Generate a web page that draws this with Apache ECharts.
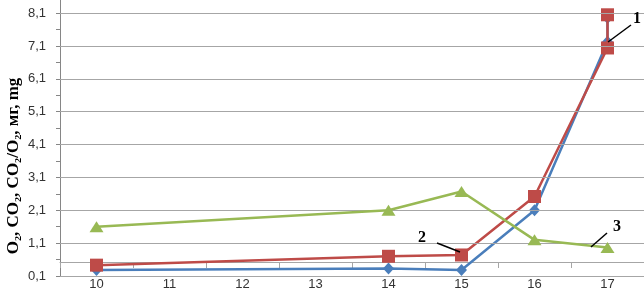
<!DOCTYPE html>
<html>
<head>
<meta charset="utf-8">
<script src="https://cdn.jsdelivr.net/npm/echarts@6/dist/echarts.min.js"></script>
<style>
  html, body { margin: 0; padding: 0; background: #fff; }
  #chart { width: 644px; height: 291px; }
</style>
</head>
<body>
<div id="chart"></div>
<script>
// categories on the x axis
var categories = ["10", "11", "12", "13", "14", "15", "16", "17"];
// y tick labels
var yTicks = [0.1, 1.1, 2.1, 3.1, 4.1, 5.1, 6.1, 7.1, 8.1];
var yMinorTicks = [0.1, 0.6, 1.1, 1.6, 2.1, 2.6, 3.1, 3.6, 4.1, 4.6, 5.1, 5.6, 6.1, 6.6, 7.1, 7.6, 8.1];

// series 1 (blue diamonds)
var s1X = ["10", "14", "15", "16", "17", "17"];
var s1Y = [0.28, 0.33, 0.28, 2.1, 7.23, 7.95];
// series 2 (red squares)
var s2X = ["10", "14", "15", "16", "17", "17"];
var s2Y = [0.43, 0.70, 0.74, 2.52, 7.04, 8.05];
// series 3 (green triangles)
var s3X = ["10", "14", "15", "16", "17"];
var s3Y = [1.6, 2.1, 2.67, 1.2, 0.97];

function pairs(xs, ys) {
  return xs.map(function (x, i) { return [x, ys[i]]; });
}

var myChart = echarts.init(document.getElementById("chart"));

var labelFont = { color: "#333", fontSize: 13, fontFamily: "Liberation Sans" };

var option = {
  backgroundColor: "#fff",
  animation: false,
  grid: { left: 60, right: 0, top: 0, bottom: 14 },
  xAxis: [
    {
      type: "category",
      data: categories,
      boundaryGap: true,
      axisLine: { lineStyle: { color: "#a6a6a6" } },
      axisTick: { show: false },
      axisLabel: Object.assign({ margin: 2 }, labelFont),
    },
    {
      // axis line crossing the value axis a little above the bottom
      type: "category",
      data: categories,
      position: "bottom",
      offset: -14,
      boundaryGap: true,
      axisLine: { lineStyle: { color: "#a6a6a6" } },
      axisTick: { show: true, length: 6, lineStyle: { color: "#a6a6a6" } },
      axisLabel: { show: false },
    },
  ],
  yAxis: {
    type: "value",
    min: 0.1,
    max: 8.5,
    axisLine: { show: true, lineStyle: { color: "#868686" } },
    axisTick: { show: true, length: 4, customValues: yMinorTicks, lineStyle: { color: "#868686" } },
    axisLabel: Object.assign({
      margin: 14,
      customValues: yTicks,
      formatter: function (v) { return v.toFixed(1).replace(".", ","); },
    }, labelFont),
    splitLine: { show: false },
  },
  series: [
    {
      // horizontal grid lines
      type: "line",
      data: [],
      z: 1,
      markLine: {
        silent: true,
        symbol: "none",
        label: { show: false },
        lineStyle: { color: "#a6a6a6", type: "solid", width: 1 },
        data: yTicks.slice(1).map(function (v) { return { yAxis: v }; }),
      },
    },
    {
      name: "1",
      type: "line",
      data: pairs(s1X, s1Y),
      color: "#4a7ebb",
      lineStyle: { width: 2.5 },
      symbol: "diamond",
      symbolSize: [11, 12],
      showAllSymbol: true,
      z: 3,
    },
    {
      name: "2",
      type: "line",
      data: pairs(s2X, s2Y),
      color: "#be4b48",
      lineStyle: { width: 2.5 },
      symbol: "rect",
      symbolSize: 13,
      showAllSymbol: true,
      z: 4,
    },
    {
      name: "3",
      type: "line",
      data: pairs(s3X, s3Y),
      color: "#98b954",
      lineStyle: { width: 2.5 },
      symbol: "triangle",
      symbolSize: [14, 11],
      showAllSymbol: true,
      z: 5,
    },
  ],
  graphic: [
    {
      type: "text",
      x: 14,
      y: 166,
      rotation: Math.PI / 2,
      style: {
        text: "O\u2082, CO\u2082, CO\u2082/O\u2082, мг, mg",
        font: 'bold 17px "Liberation Serif"',
        fill: "#000",
        textAlign: "center",
        textVerticalAlign: "middle",
      },
    },
    { type: "line", shape: { x1: 631, y1: 25, x2: 608, y2: 42 }, style: { stroke: "#000", lineWidth: 1.5 }, z: 10 },
    { type: "text", x: 633, y: 11, style: { text: "1", font: 'bold 16px "Liberation Serif"', fill: "#000" }, z: 10 },
    { type: "line", shape: { x1: 437, y1: 243, x2: 460, y2: 252 }, style: { stroke: "#000", lineWidth: 1.5 }, z: 10 },
    { type: "text", x: 418, y: 230, style: { text: "2", font: 'bold 16px "Liberation Serif"', fill: "#000" }, z: 10 },
    { type: "line", shape: { x1: 607, y1: 233, x2: 591, y2: 247 }, style: { stroke: "#000", lineWidth: 1.5 }, z: 10 },
    { type: "text", x: 613, y: 219, style: { text: "3", font: 'bold 16px "Liberation Serif"', fill: "#000" }, z: 10 },
  ],
};

myChart.setOption(option);
window.onresize = function () {
  myChart.resize();
};
</script>
</body>
</html>
